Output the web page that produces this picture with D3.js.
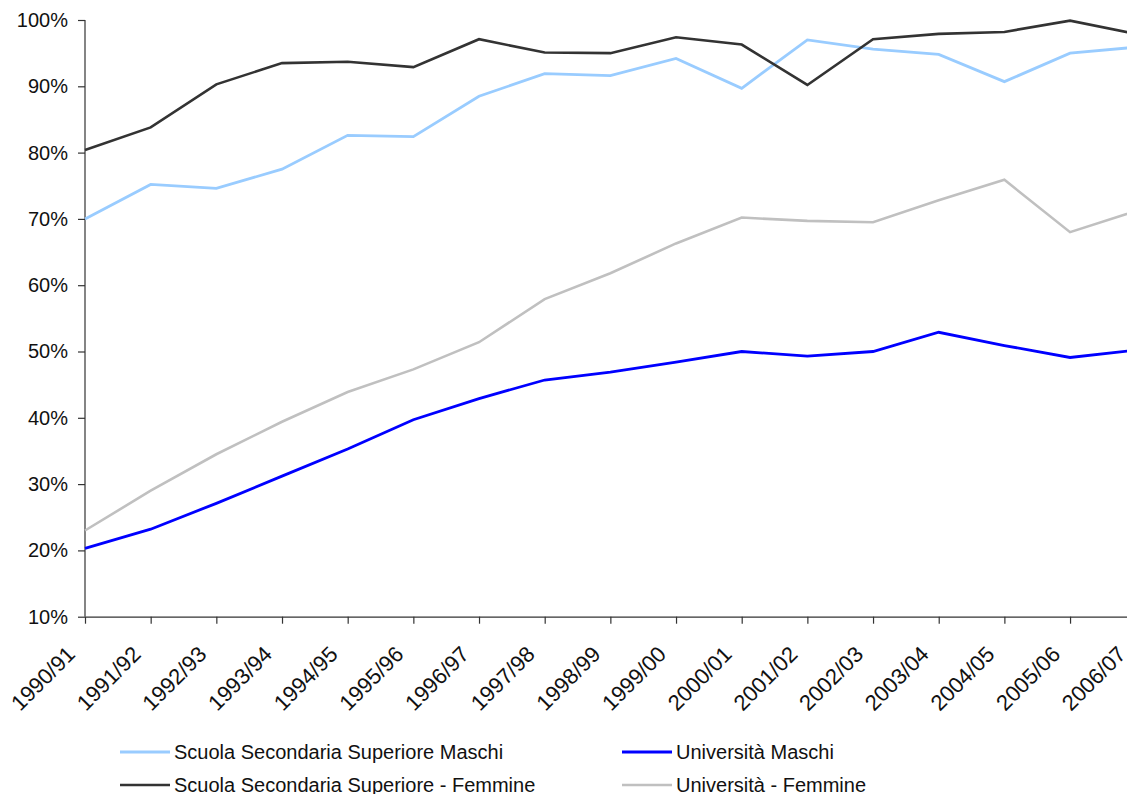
<!DOCTYPE html>
<html>
<head>
<meta charset="utf-8">
<script src="https://cdn.jsdelivr.net/npm/d3@7"></script>
<style>
  html, body { margin: 0; padding: 0; background: #fff; overflow: hidden; }
  svg { display: block; }
  text { font-family: "Liberation Sans", Arial, sans-serif; fill: #111; }
</style>
</head>
<body>
<svg id="chart" width="1127" height="794"></svg>
<script>
const categories = ["1990/91","1991/92","1992/93","1993/94","1994/95","1995/96","1996/97","1997/98","1998/99","1999/00","2000/01","2001/02","2002/03","2003/04","2004/05","2005/06","2006/07"];
const ssMaschi   = [70.0, 75.2, 74.6, 77.5, 82.6, 82.4, 88.5, 91.9, 91.6, 94.2, 89.7, 97.0, 95.6, 94.8, 90.7, 95.0, 95.9];
const uniMaschi  = [20.3, 23.2, 27.1, 31.2, 35.3, 39.7, 42.9, 45.7, 46.9, 48.4, 50.0, 49.3, 50.0, 52.9, 50.9, 49.1, 50.2];
const ssFemmine  = [80.4, 83.8, 90.3, 93.5, 93.7, 92.9, 97.1, 95.1, 95.0, 97.4, 96.3, 90.2, 97.1, 97.9, 98.2, 99.9, 97.9];
const uniFemmine = [23.0, 29.0, 34.5, 39.4, 43.9, 47.3, 51.4, 57.9, 61.8, 66.3, 70.2, 69.7, 69.5, 72.8, 75.9, 68.0, 71.2];
const yTicks = [10, 20, 30, 40, 50, 60, 70, 80, 90, 100];

const series = [
  { name: "Scuola Secondaria Superiore Maschi", values: ssMaschi, color: "#99CCFF", width: 2.8 },
  { name: "Università Maschi", values: uniMaschi, color: "#0000FF", width: 2.8 },
  { name: "Scuola Secondaria Superiore - Femmine", values: ssFemmine, color: "#333333", width: 2.6 },
  { name: "Università - Femmine", values: uniFemmine, color: "#C0C0C0", width: 2.6 }
];

const svg = d3.select("#chart");
const x0 = 85, x1 = 85 + 16 * 65.67;
const x = d3.scalePoint().domain(categories).range([x0, x1]);
const y = d3.scaleLinear().domain([10, 100]).range([616.7, 20]);

// Y axis
const yAxis = svg.append("g").attr("transform", `translate(${x0},0)`)
  .call(d3.axisLeft(y).tickValues(yTicks).tickSize(7).tickPadding(10).tickFormat(d => d + "%"));
yAxis.selectAll("path, line").attr("stroke", "#333").attr("stroke-width", 1.2);
yAxis.select(".domain").attr("d", `M0,${y(10)}V${y(100)}`);
yAxis.selectAll("text").style("font-size", "20px").attr("fill", "#111")
  .style("font-family", '"Liberation Sans", Arial, sans-serif');

// X axis
const xAxis = svg.append("g").attr("transform", `translate(0,${y(10)})`)
  .call(d3.axisBottom(x).tickSize(7).tickSizeOuter(0));
xAxis.selectAll("path, line").attr("stroke", "#333").attr("stroke-width", 1.2);
xAxis.selectAll("text")
  .style("font-size", "22px").attr("fill", "#111")
  .style("font-family", '"Liberation Sans", Arial, sans-serif')
  .attr("text-anchor", "end")
  .attr("x", 0).attr("y", 0).attr("dy", 0)
  .attr("transform", "translate(-9,39) rotate(-45)");

// Lines
const line = d3.line().x((d, i) => x(categories[i])).y(d => y(d));
svg.append("g").selectAll("path").data(series).join("path")
  .attr("d", d => line(d.values))
  .attr("fill", "none")
  .attr("stroke", d => d.color)
  .attr("stroke-width", d => d.width)
  .attr("stroke-linejoin", "miter");

// Legend
const legendPos = [
  { lx: 120, ly: 752 }, { lx: 622, ly: 752 },
  { lx: 120, ly: 785 }, { lx: 622, ly: 785 }
];
const lg = svg.append("g").selectAll("g").data(series).join("g")
  .attr("transform", (d, i) => `translate(${legendPos[i].lx},${legendPos[i].ly})`);
lg.append("line").attr("x1", 0).attr("x2", 50).attr("y1", 0).attr("y2", 0)
  .attr("stroke", d => d.color).attr("stroke-width", d => d.width);
lg.append("text").attr("x", 54).attr("y", 0).attr("dy", "0.35em")
  .style("font-size", "20px").text(d => d.name);
</script>
</body>
</html>
